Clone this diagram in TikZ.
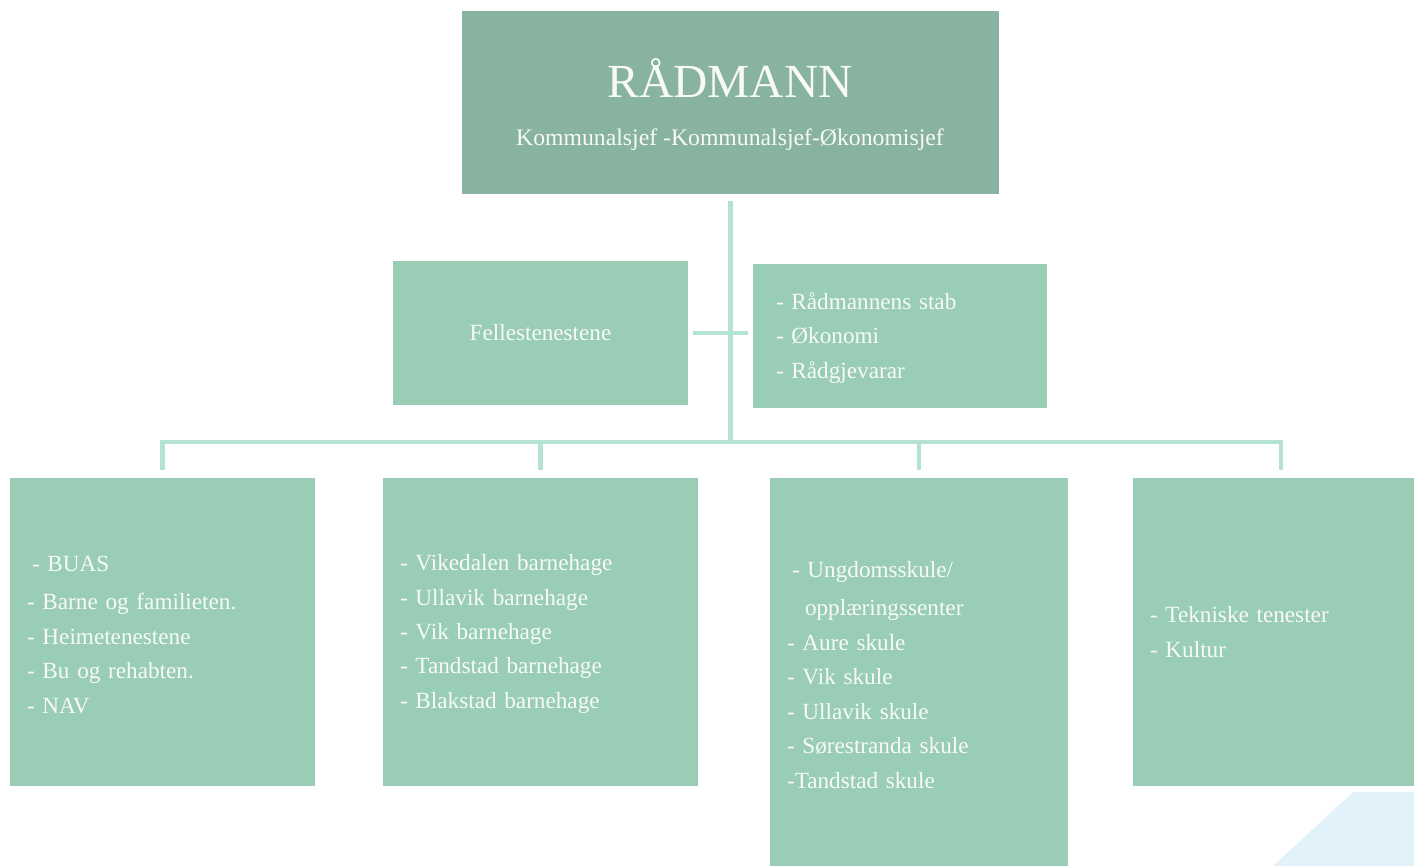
\documentclass[tikz,border=0pt]{standalone}
\usepackage{fontspec}
\setmainfont{Liberation Serif}
\definecolor{topgreen}{HTML}{87B3A0}
\definecolor{boxgreen}{HTML}{99CDB6}
\definecolor{linegreen}{HTML}{B5E3D1}
\definecolor{skyblue}{HTML}{E2F2FB}
\definecolor{paper}{HTML}{F8FAF6}

\begin{document}
\begin{tikzpicture}[x=0.02cm,y=-0.02cm,
    unit/.style={fill=boxgreen,text=paper,inner xsep=0.34cm,inner ysep=0pt,
        align=left,font=\fontsize{13.2}{19.6}\selectfont},
    link/.style={draw=linegreen,line width=2.8pt}]
    \useasboundingbox (0,0) rectangle (1414,866);
    \fill[skyblue] (1273,866) -- (1353,792) -- (1414,792) -- (1414,866) -- cycle;

    % top
    \node[fill=topgreen,minimum width=10.74cm,minimum height=3.66cm] (top) at (730.5,102.5) {};
    \node[text=paper,anchor=base,font=\fontsize{27}{30}\selectfont] (title) at (730,97) {RÅDMANN};
    \node[text=paper,anchor=base,font=\fontsize{13.5}{14}\selectfont] (chiefs) at (730,145) {Kommunalsjef -Kommunalsjef-Økonomisjef};

    % staff level
    \node[unit,align=center,minimum width=5.9cm,minimum height=2.88cm] (fell) at (540.5,333) {Fellestenestene};
    \node[unit,minimum width=5.88cm,minimum height=2.88cm] (stab) at (900,336) {};
    \node[unit,fill=none,text width=4.96cm] (list0) at (900,338)
        {- Rådmannens stab\\- Økonomi\\- Rådgjevarar};

    % units
    \node[unit,minimum width=6.1cm,minimum height=6.16cm] (1) at (162.5,632) {};
    \node[unit,minimum width=6.3cm,minimum height=6.16cm] (2) at (540.5,632) {};
    \node[unit,minimum width=5.96cm,minimum height=7.76cm] (3) at (919,672) {};
    \node[unit,text width=4.94cm,minimum height=6.16cm] (4) at (1273.5,632)
        {- Tekniske tenester\\- Kultur};
    \node[unit,fill=none,text width=5.42cm] (list1) at (162.5,635)
        {\hspace{0.1cm}- BUAS\\[2pt]- Barne og familieten.\\- Heimetenestene\\- Bu og rehabten.\\- NAV};
    \node[unit,fill=none,text width=5.62cm] (list2) at (540.5,634)
        {- Vikedalen barnehage\\- Ullavik barnehage\\- Vik barnehage\\- Tandstad barnehage\\- Blakstad barnehage};
    \node[unit,fill=none,text width=5.28cm] (list3) at (919,675)
        {\hspace{0.1cm}- Ungdomsskule/\\[2pt]\hspace{0.36cm}opplæringssenter\\- Aure skule\\- Vik skule\\- Ullavik skule\\- Sørestranda skule\\-Tandstad skule};

    \coordinate (bus) at (731,442);
    \draw[link,shorten <=0.14cm] (top.south) -- (top.south |- bus);
    \draw[link,shorten <=0.1cm,shorten >=0.1cm] (fell.east) -- (stab.west |- fell.east);
    \draw[link,shorten <=0.16cm,shorten >=0.16cm] (1.north) -- (1.north |- bus)
        -- ([xshift=0.15cm]4.north |- bus) -- ([xshift=0.15cm]4.north);
    \draw[link,shorten >=0.16cm] (2.north |- bus) -- (2.north);
    \draw[link,shorten >=0.16cm] (3.north |- bus) -- (3.north);
\end{tikzpicture}
\end{document}
